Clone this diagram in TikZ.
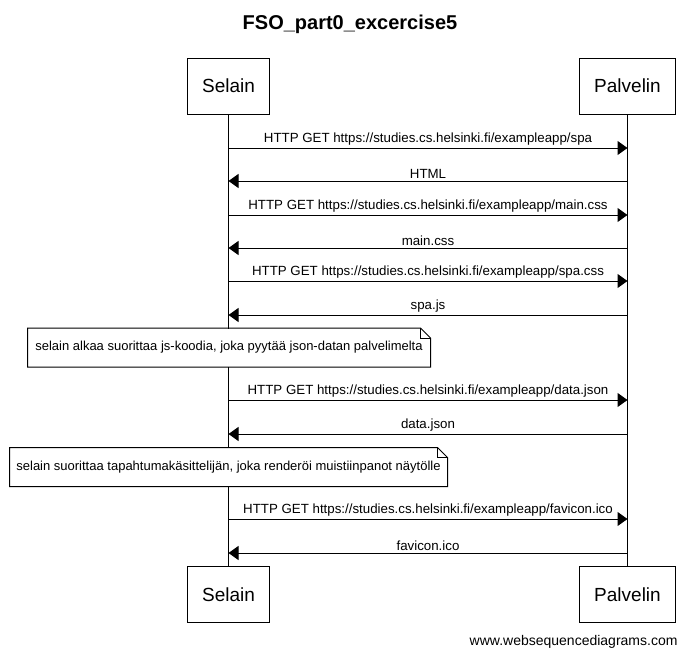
\documentclass[tikz,border=0pt]{standalone}
\usepackage{fontspec}
\setmainfont{Liberation Sans}
\usetikzlibrary{arrows.meta}

\begin{document}
\begin{tikzpicture}[x=1pt, y=-1pt, line width=1pt,
    actor/.style={draw, inner xsep=15pt, inner ysep=0pt, minimum height=56pt, font=\fontsize{19}{22}\selectfont},
    msg/.style={-{Triangle[length=10pt, width=14pt]}},
    lbl/.style={above=1pt, inner sep=1pt, font=\fontsize{13.3}{15}\selectfont},
    note/.style={fill=white, inner sep=0pt, minimum height=38pt, font=\fontsize{13}{15}\selectfont}]
    \useasboundingbox (0,0) rectangle (689,657);

    \node[font=\fontsize{20}{24}\selectfont\bfseries] (title) at (350,24) {FSO\_part0\_excercise5};

    \node[actor] (selT) at (228.5,86) {Selain};
    \node[actor] (palT) at (627.5,86) {Palvelin};
    \node[actor] (selB) at (228.5,594.5) {Selain};
    \node[actor] (palB) at (627.5,594.5) {Palvelin};
    \draw (selT) -- (selB);
    \draw (palT) -- (palB);

    % message points on the lifelines
    \foreach \y [count=\i] in {148,181,215,248,281,315,400,434,519,553} {
      \coordinate (s\i) at (selT |- 0,\y);
      \coordinate (p\i) at (palT |- 0,\y);
    }

    \draw[msg] (s1) -- node[lbl] {HTTP GET https://studies.cs.helsinki.fi/exampleapp/spa} (p1);
    \draw[msg] (p2) -- node[lbl] {HTML} (s2);
    \draw[msg] (s3) -- node[lbl] {HTTP GET https://studies.cs.helsinki.fi/exampleapp/main.css} (p3);
    \draw[msg] (p4) -- node[lbl] {main.css} (s4);
    \draw[msg] (s5) -- node[lbl] {HTTP GET https://studies.cs.helsinki.fi/exampleapp/spa.css} (p5);
    \draw[msg] (p6) -- node[lbl] {spa.js} (s6);

    \node[note, minimum width=402pt] (note1) at (229,347.5) {selain alkaa suorittaa js-koodia, joka pyytää json-datan palvelimelta};
    \draw (note1.north west) -- ([xshift=-10pt]note1.north east) -- ([yshift=-10pt]note1.north east) -- (note1.south east) -- (note1.south west) -- cycle;
    \draw ([xshift=-10pt]note1.north east) |- ([yshift=-10pt]note1.north east);

    \draw[msg] (s7) -- node[lbl] {HTTP GET https://studies.cs.helsinki.fi/exampleapp/data.json} (p7);
    \draw[msg] (p8) -- node[lbl] {data.json} (s8);

    \node[note, minimum width=437pt] (note2) at (228.5,467) {selain suorittaa tapahtumakäsittelijän, joka renderöi muistiinpanot näytölle};
    \draw (note2.north west) -- ([xshift=-10pt]note2.north east) -- ([yshift=-10pt]note2.north east) -- (note2.south east) -- (note2.south west) -- cycle;
    \draw ([xshift=-10pt]note2.north east) |- ([yshift=-10pt]note2.north east);

    \draw[msg] (s9) -- node[lbl] {HTTP GET https://studies.cs.helsinki.fi/exampleapp/favicon.ico} (p9);
    \draw[msg] (p10) -- node[lbl] {favicon.ico} (s10);

    \node[anchor=east, inner sep=0pt, font=\fontsize{14}{17}\selectfont] (footer) at (678,642) {www.websequencediagrams.com};
\end{tikzpicture}
\end{document}
